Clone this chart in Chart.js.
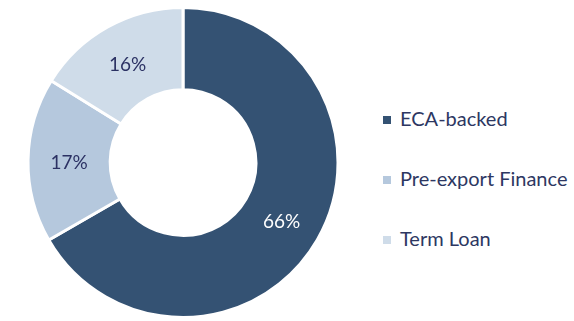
<!DOCTYPE html>
<html>
<head>
<meta charset="utf-8">
<script src="https://cdn.jsdelivr.net/npm/chart.js@4.4.0/dist/chart.umd.min.js"></script>
<style>
  html, body { margin: 0; padding: 0; background: #fff; }
  #wrap { position: relative; width: 574px; height: 321px; }
  #myChart { position: absolute; left: 0; top: 0; }
  #legend { position: absolute; left: 383px; top: 0; font-family: Lato, sans-serif; font-size: 20px; color: #2d3762; }
  .item { position: absolute; left: 0; white-space: nowrap; line-height: 24px; height: 24px; }
  .box { display: inline-block; width: 8px; height: 8px; margin-right: 9px; vertical-align: middle; position: relative; top: -1px; }
</style>
</head>
<body>
<div id="wrap">
  <canvas id="myChart" width="366" height="321"></canvas>
  <div id="legend"></div>
</div>
<script>
var categories = ['ECA-backed', 'Pre-export Finance', 'Term Loan'];
var shares = [66, 17, 16];
var colors = ['#345273', '#b5c8dd', '#cfdce9'];
var labelColors = ['#ffffff', '#2b3163', '#2b3163'];

// draws the % text on each slice
var sliceLabels = {
  id: 'sliceLabels',
  afterDatasetsDraw: function(chart) {
    var ctx = chart.ctx;
    var meta = chart.getDatasetMeta(0);
    ctx.save();
    ctx.font = '19px Lato';
    ctx.textAlign = 'center';
    ctx.textBaseline = 'middle';
    meta.data.forEach(function(arc, i) {
      var p = arc.tooltipPosition();
      ctx.fillStyle = labelColors[i];
      ctx.fillText(shares[i] + '%', p.x, p.y + 2);
    });
    ctx.restore();
  }
};

var ctx = document.getElementById('myChart').getContext('2d');
var chart = new Chart(ctx, {
  type: 'doughnut',
  data: {
    labels: categories,
    datasets: [{
      data: shares,
      backgroundColor: colors,
      borderColor: '#ffffff',
      borderWidth: 3,
      hoverOffset: 0
    }]
  },
  options: {
    responsive: false,
    animation: false,
    cutout: '47%',
    layout: { padding: { top: 6, bottom: 2, left: 0, right: 0 } },
    plugins: {
      tooltip: { enabled: false },
      legend: { display: false }
    }
  },
  plugins: [sliceLabels]
});

// legend on the right
var legend = document.getElementById('legend');
categories.forEach(function(name, i) {
  var row = document.createElement('div');
  row.className = 'item';
  row.style.top = (106 + i * 60) + 'px';
  var box = document.createElement('span');
  box.className = 'box';
  box.style.background = colors[i];
  row.appendChild(box);
  row.appendChild(document.createTextNode(name));
  legend.appendChild(row);
});
</script>
</body>
</html>
